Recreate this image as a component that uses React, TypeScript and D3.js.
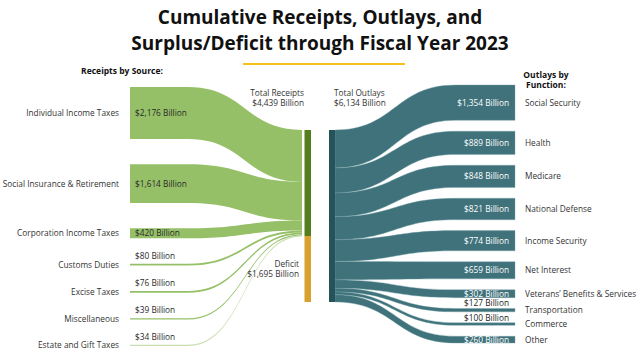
import React, { useEffect, useRef } from 'react';
import * as d3 from 'd3';

// data (billions of dollars)
const sources = ['Individual Income Taxes', 'Social Insurance & Retirement', 'Corporation Income Taxes', 'Customs Duties', 'Excise Taxes', 'Miscellaneous', 'Estate and Gift Taxes'];
const receipts = [2176, 1614, 420, 80, 76, 39, 34];
const functions = ['Social Security', 'Health', 'Medicare', 'National Defense', 'Income Security', 'Net Interest', 'Veterans’ Benefits & Services', 'Transportation', 'Commerce', 'Other'];
const outlays = [1354, 889, 848, 821, 774, 659, 302, 127, 100, 260];
const titleLines = ['Cumulative Receipts, Outlays, and', 'Surplus/Deficit through Fiscal Year 2023'];

const FONT = '"Open Sans", "DejaVu Sans", sans-serif';

// stack nodes vertically between top and bottom with even padding
function stack(values: number[], scale: (v: number) => number, top: number, bottom: number, minH: number) {
  const hs = values.map(v => Math.max(scale(v), minH));
  const pad = (bottom - top - d3.sum(hs)) / (values.length - 1);
  let y = top;
  return hs.map(h => {
    const n = { y0: y, y1: y + h, h };
    y += h + pad;
    return n;
  });
}

// ribbon: flat part from xa to xb, bezier from xb to xc (or the other way round)
function ribbon(xa: number, xb: number, xc: number, t0: number, b0: number, t1: number, b1: number, flatAtEnd = false) {
  const p = d3.path();
  if (!flatAtEnd) {
    const xm = (xb + xc) / 2;
    p.moveTo(xa, t0);
    p.lineTo(xb, t0);
    p.bezierCurveTo(xm, t0, xm, t1, xc, t1);
    p.lineTo(xc, b1);
    p.bezierCurveTo(xm, b1, xm, b0, xb, b0);
    p.lineTo(xa, b0);
  } else {
    const xm = (xa + xb) / 2;
    p.moveTo(xa, t0);
    p.bezierCurveTo(xm, t0, xm, t1, xb, t1);
    p.lineTo(xc, t1);
    p.lineTo(xc, b1);
    p.lineTo(xb, b1);
    p.bezierCurveTo(xm, b1, xm, b0, xa, b0);
  }
  p.closePath();
  return p.toString();
}

const SankeyChart = () => {
  const chartRef = useRef<SVGSVGElement>(null);

  useEffect(() => {
    const width = 640;
    const height = 353;
    const fmt = d3.format(',');
    const totalReceipts = d3.sum(receipts);
    const totalOutlays = d3.sum(outlays);
    const deficit = totalOutlays - totalReceipts;
    const fs = 8.3; // label font size

    const svg = d3.select(chartRef.current);
    svg.selectAll('*').remove();
    svg.attr('width', width).attr('height', height).style('font-family', FONT);

    // title
    svg.selectAll('text.title')
      .data(titleLines)
      .enter()
      .append('text')
      .attr('class', 'title')
      .attr('x', 320)
      .attr('y', (d, i) => 24 + i * 26)
      .attr('text-anchor', 'middle')
      .attr('font-size', 19)
      .attr('font-weight', 700)
      .attr('fill', '#111')
      .text(d => d);

    svg.append('rect').attr('x', 243).attr('y', 63).attr('width', 162).attr('height', 2).attr('fill', '#f5c21b');

    // scales for band thickness
    const barTop = 130;
    const yL = d3.scaleLinear().domain([0, totalReceipts]).range([0, 106]);
    const yR = d3.scaleLinear().domain([0, totalOutlays]).range([0, 172]);
    const yT = d3.scaleLinear().domain([0, totalOutlays]).range([0, 160]);

    // ---- receipts side ----
    const srcNodes = stack(receipts, yL, 87, 346, 1.2);
    let sinkY = barTop;
    const srcFlows = receipts.map((v, i) => {
      const n = srcNodes[i];
      const f = { t0: n.y0, b0: n.y1, t1: sinkY, b1: sinkY + n.h };
      sinkY += yL(v);
      return f;
    });

    svg.append('g')
      .selectAll('path')
      .data(srcFlows)
      .enter()
      .append('path')
      .attr('d', f => ribbon(130, 188, 302, f.t0, f.b0, f.t1, f.b1))
      .attr('fill', (d, i) => (i === receipts.length - 1 ? '#c9deb0' : '#95c067'));

    const greenEnd = barTop + yL(totalReceipts);
    const barBottom = barTop + yR(totalOutlays);
    svg.append('rect').attr('x', 304.5).attr('y', barTop).attr('width', 6.5).attr('height', greenEnd - barTop).attr('fill', '#557d1f');
    svg.append('rect').attr('x', 304.5).attr('y', greenEnd).attr('width', 6.5).attr('height', barBottom - greenEnd).attr('fill', '#d8a22f');

    const left = svg.append('g').attr('font-size', fs).attr('fill', '#333');
    left.selectAll('text.cat')
      .data(sources)
      .enter()
      .append('text')
      .attr('class', 'cat')
      .attr('x', 119)
      .attr('y', (d, i) => (srcNodes[i].y0 + srcNodes[i].y1) / 2)
      .attr('dy', '0.35em')
      .attr('text-anchor', 'end')
      .text(d => d);
    left.selectAll('text.val')
      .data(receipts)
      .enter()
      .append('text')
      .attr('class', 'val')
      .attr('x', 135)
      .attr('y', (d, i) => (srcNodes[i].h >= 8 ? (srcNodes[i].y0 + srcNodes[i].y1) / 2 : srcNodes[i].y0 - 8))
      .attr('dy', '0.35em')
      .attr('fill', '#2a2a2a')
      .text(d => `$${fmt(d)} Billion`);

    // ---- outlays side ----
    const tgtNodes = stack(outlays, yT, 85, 343, 2.5);
    let srcY = barTop;
    const outFlows = outlays.map((v, i) => {
      const n = tgtNodes[i];
      const f = { t0: srcY, b0: srcY + yR(v), t1: n.y0, b1: n.y1 };
      srcY += yR(v);
      return f;
    });

    svg.append('g')
      .selectAll('path')
      .data(outFlows)
      .enter()
      .append('path')
      .attr('d', f => ribbon(335, 455, 515, f.t0, f.b0, f.t1, f.b1, true))
      .attr('fill', '#3f727b')
      .attr('stroke', '#7aa3aa')
      .attr('stroke-width', 0.4);

    svg.append('rect').attr('x', 329).attr('y', barTop).attr('width', 6).attr('height', barBottom - barTop).attr('fill', '#26525a');

    const right = svg.append('g').attr('font-size', fs).attr('fill', '#333');
    right.selectAll('text.cat')
      .data(functions)
      .enter()
      .append('text')
      .attr('class', 'cat')
      .attr('x', 525)
      .attr('y', (d, i) => (tgtNodes[i].y0 + tgtNodes[i].y1) / 2)
      .attr('dy', '0.35em')
      .text(d => d);
    right.selectAll('text.val')
      .data(outlays)
      .enter()
      .append('text')
      .attr('class', 'val')
      .attr('x', 509)
      .attr('y', (d, i) => (tgtNodes[i].h >= 6 ? (tgtNodes[i].y0 + tgtNodes[i].y1) / 2 : tgtNodes[i].y0 - 5))
      .attr('dy', '0.35em')
      .attr('text-anchor', 'end')
      .attr('fill', (d, i) => (tgtNodes[i].h >= 6 ? '#fff' : '#222'))
      .text(d => `$${fmt(d)} Billion`);

    // ---- headings and totals ----
    const notes = svg.append('g').attr('font-size', fs).attr('fill', '#333');
    notes.append('text').attr('x', 122).attr('y', 74).attr('text-anchor', 'middle')
      .attr('font-weight', 700).attr('font-size', 8.5).attr('fill', '#111').text('Receipts by Source:');
    notes.append('text').attr('x', 546).attr('y', 78).attr('text-anchor', 'middle')
      .attr('font-weight', 700).attr('font-size', 8.5).attr('fill', '#111').text('Outlays by');
    notes.append('text').attr('x', 546).attr('y', 88).attr('text-anchor', 'middle')
      .attr('font-weight', 700).attr('font-size', 8.5).attr('fill', '#111').text('Function:');

    notes.append('text').attr('x', 304).attr('y', 96).attr('text-anchor', 'end').text('Total Receipts');
    notes.append('text').attr('x', 304).attr('y', 106).attr('text-anchor', 'end').text(`$${fmt(totalReceipts)} Billion`);
    notes.append('text').attr('x', 334).attr('y', 96).text('Total Outlays');
    notes.append('text').attr('x', 334).attr('y', 106).text(`$${fmt(totalOutlays)} Billion`);

    const defMid = (greenEnd + barBottom) / 2;
    notes.append('text').attr('x', 299).attr('y', defMid - 2).attr('text-anchor', 'end').text('Deficit');
    notes.append('text').attr('x', 299).attr('y', defMid + 8).attr('text-anchor', 'end').text(`$${fmt(deficit)} Billion`);

    return () => {
      d3.select(chartRef.current).selectAll('*').remove();
    };
  }, []);

  return <svg ref={chartRef} style={{ position: 'absolute', left: 0, top: 0, background: '#fff' }} />;
};

export default function App() {
  return <SankeyChart />;
}
